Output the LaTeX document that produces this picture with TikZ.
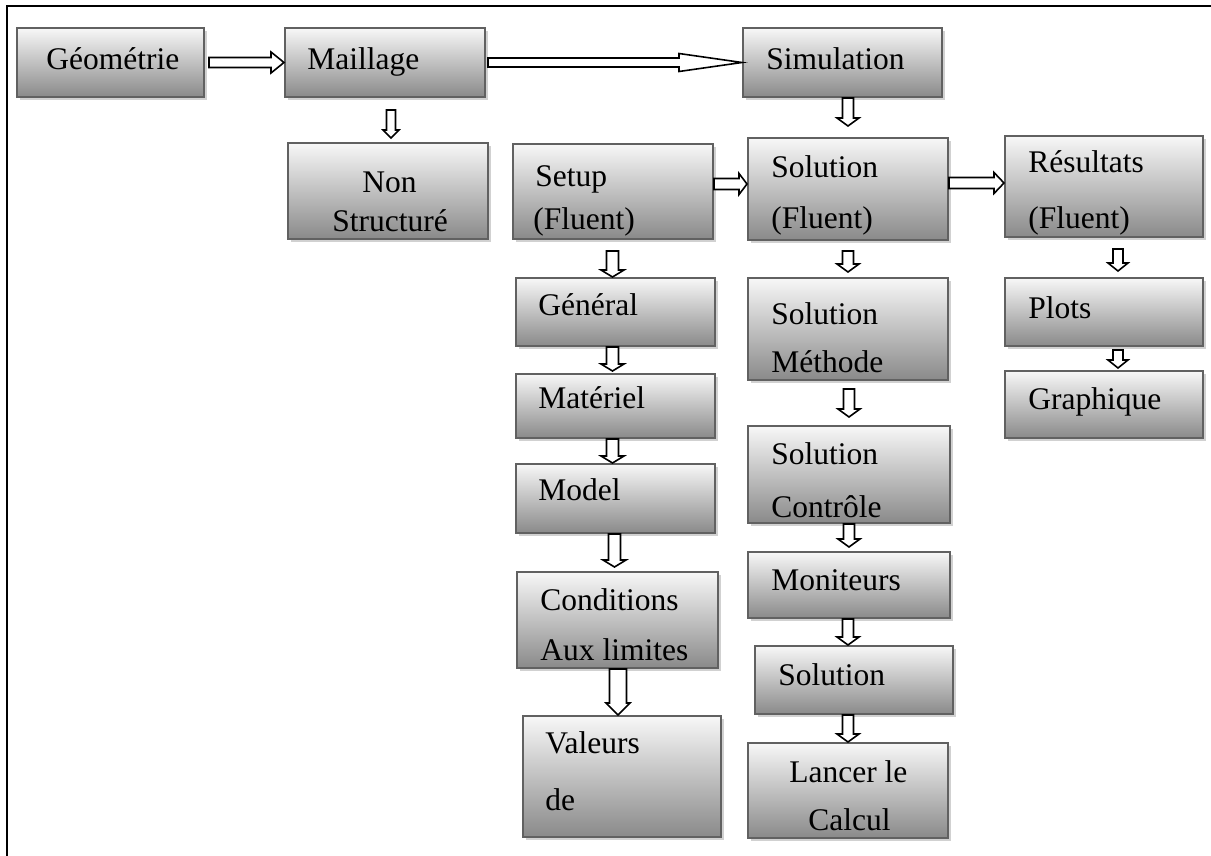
\documentclass[tikz,border=0pt]{standalone}
\usepackage{fontspec}
\setmainfont{Liberation Serif}
\usetikzlibrary{shadows,calc}

% pixel-like units: 1 unit = 0.5pt, y grows downwards
\tikzset{
  x=0.5pt, y=-0.5pt,
  box/.style={draw=black!62, line width=1pt, inner sep=0pt,
    top color=black!3, bottom color=black!46,
    drop shadow={shadow xshift=1.6pt, shadow yshift=-1.6pt, fill=black!30, opacity=0.6}},
  lbl/.style={anchor=base west, inner sep=0pt, font=\fontsize{15.75}{19}\selectfont},
  hollow/.style={draw=black, line width=0.8pt, fill=white, line join=miter},
  frameline/.style={draw=black, line width=1.4pt}
}

% box from its corners: name, x1, y1, x2, y2
\newcommand\mkbox[5]{%
  \node[box, minimum width={(#4-#2)*0.5pt}, minimum height={(#5-#3)*0.5pt}]
    (#1) at ({(#2+#4)/2},{(#3+#5)/2}) {};}
% text line: name, left x, baseline y, text
\newcommand\mktxt[4]{\node[lbl] (#1) at (#2,#3) {#4};}

% hollow horizontal arrow: start, end, shaft half width, head half width, head length
\newcommand\hArrow[5]{%
  \draw[hollow] let \p1=(#1), \p2=(#2) in
    (\x1,\y1+#3) -- (\x2-#5,\y1+#3) -- (\x2-#5,\y1+#4) -- (\x2,\y1)
    -- (\x2-#5,\y1-#4) -- (\x2-#5,\y1-#3) -- (\x1,\y1-#3) -- cycle;}
% hollow vertical arrow (downwards), x taken from the end point
\newcommand\vArrow[5]{%
  \draw[hollow] let \p1=(#1), \p2=(#2) in
    (\x2-#3,\y1) -- (\x2-#3,\y2+#5) -- (\x2-#4,\y2+#5) -- (\x2,\y2)
    -- (\x2+#4,\y2+#5) -- (\x2+#3,\y2+#5) -- (\x2+#3,\y1) -- cycle;}

\begin{document}
\begin{tikzpicture}
\useasboundingbox (0,0) rectangle (1211,856);

% outer frame
\draw[frameline] (7,856) -- (7,6) -- (1211,6);

% boxes
\mkbox{geo}{17}{28}{204}{97}
\mkbox{mail}{285}{28}{485}{97}
\mkbox{sim}{743}{28}{942}{97}
\mkbox{non}{288}{143}{488}{239}
\mkbox{setup}{513}{144}{713}{239}
\mkbox{sol}{748}{138}{948}{240}
\mkbox{res}{1005}{136}{1203}{237}
\mkbox{gen}{516}{278}{715}{346}
\mkbox{mat}{516}{374}{715}{438}
\mkbox{mod}{516}{464}{715}{533}
\mkbox{cond}{517}{572}{718}{668}
\mkbox{val}{523}{716}{721}{837}
\mkbox{solm}{748}{278}{948}{380}
\mkbox{solc}{748}{426}{950}{523}
\mkbox{mon}{748}{552}{950}{618}
\mkbox{solb}{755}{646}{953}{714}
\mkbox{lanc}{748}{743}{948}{838}
\mkbox{plots}{1005}{278}{1203}{346}
\mkbox{graph}{1005}{371}{1203}{438}

% labels
\mktxt{tgeo}{46}{70}{Géométrie}
\mktxt{tmail}{307}{70}{Maillage}
\mktxt{tsim}{766}{70}{Simulation}
\mktxt{tnon}{362}{192}{Non}
\mktxt{tnonb}{332}{232}{Structuré}
\mktxt{tsetup}{535}{187}{Setup}
\mktxt{tsetupb}{533}{229}{(Fluent)}
\mktxt{tsol}{771}{177}{Solution}
\mktxt{tsolb}{771}{228}{(Fluent)}
\mktxt{tres}{1028}{173}{Résultats}
\mktxt{tresb}{1028}{228}{(Fluent)}
\mktxt{tgen}{538}{315}{Général}
\mktxt{tmat}{538}{408}{Matériel}
\mktxt{tmod}{538}{500}{Model}
\mktxt{tcond}{540}{610}{Conditions}
\mktxt{tcondb}{540}{660}{Aux limites}
\mktxt{tval}{545}{753}{Valeurs}
\mktxt{tvalb}{545}{810}{de}
\mktxt{tsolm}{771}{324}{Solution}
\mktxt{tsolmb}{771}{372}{Méthode}
\mktxt{tsolc}{771}{464}{Solution}
\mktxt{tsolcb}{771}{517}{Contrôle}
\mktxt{tmon}{771}{590}{Moniteurs}
\mktxt{tsolbx}{778}{685}{Solution}
\mktxt{tlanc}{789}{782}{Lancer le}
\mktxt{tlancb}{808}{830}{Calcul}
\mktxt{tplots}{1028}{318}{Plots}
\mktxt{tgraph}{1028}{409}{Graphique}

% horizontal connectors
\hArrow{[xshift=2pt]geo.east}{mail.west}{2.5pt}{5.25pt}{6.5pt}
\hArrow{[xshift=1pt]mail.east}{sim.west}{2.25pt}{4.5pt}{31.5pt}
\hArrow{[yshift=3.75pt]setup.east}{sol.west}{2.75pt}{5.25pt}{4pt}
\hArrow{[yshift=3pt]sol.east}{res.west}{2.75pt}{5.25pt}{5pt}

% vertical connectors
\vArrow{[yshift=-6pt]mail.south}{[yshift=2pt,xshift=1.5pt]non.north}{2.25pt}{4pt}{4pt}
\vArrow{sim.south}{[yshift=5.5pt]sol.north}{2.75pt}{5.5pt}{4pt}
\vArrow{[yshift=-5.5pt]setup.south}{[xshift=-1.5pt]gen.north}{3pt}{5.75pt}{3.5pt}
\vArrow{gen.south}{[yshift=1pt,xshift=-1.5pt]mat.north}{3pt}{5.75pt}{3.5pt}
\vArrow{mat.south}{[xshift=-1.5pt]mod.north}{3pt}{5.75pt}{3.5pt}
\vArrow{mod.south}{[yshift=2pt,xshift=-1.5pt]cond.north}{3pt}{5.75pt}{3.5pt}
\vArrow{cond.south}{[xshift=-2pt]val.north}{4.25pt}{6pt}{6pt}
\vArrow{[yshift=-5pt]sol.south}{[yshift=2.5pt]solm.north}{2.75pt}{5.5pt}{4pt}
\vArrow{[yshift=-4pt]solm.south}{[yshift=4pt]solc.north}{2.75pt}{5.5pt}{4pt}
\vArrow{solc.south}{[yshift=2pt]mon.north}{2.75pt}{5.5pt}{4pt}
\vArrow{mon.south}{[xshift=-3pt]solb.north}{2.75pt}{5.5pt}{4pt}
\vArrow{solb.south}{lanc.north}{2.75pt}{5.5pt}{4pt}
\vArrow{[yshift=-5.5pt]res.south}{[yshift=3pt,xshift=7pt]plots.north}{2.5pt}{5pt}{4pt}
\vArrow{[yshift=-1.5pt]plots.south}{[yshift=1pt,xshift=7pt]graph.north}{2.5pt}{5pt}{4pt}
\end{tikzpicture}
\end{document}
